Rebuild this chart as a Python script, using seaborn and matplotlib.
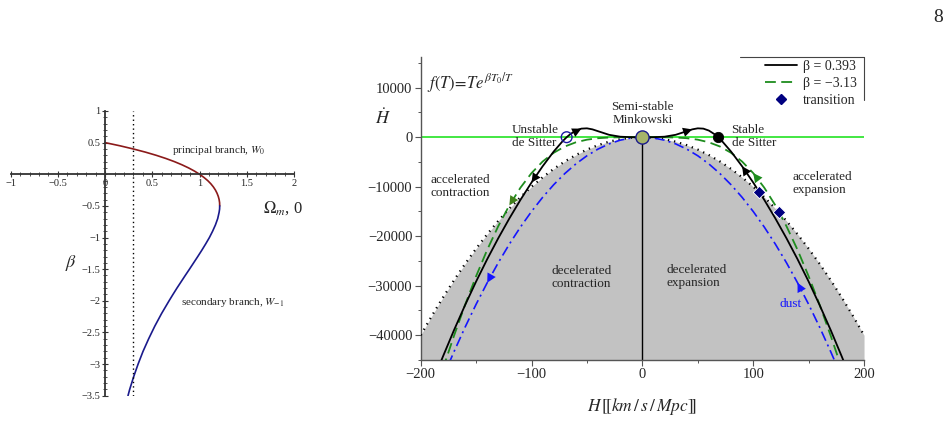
import matplotlib
matplotlib.use('Agg')
import matplotlib.pyplot as plt
import seaborn as sns
from matplotlib.lines import Line2D
from matplotlib.ticker import MultipleLocator, FixedLocator, FixedFormatter

# ---------------- left panel data (beta vs Omega_m0) ----------------
beta_principal = [0.5, 0.45, 0.4, 0.35, 0.3, 0.25, 0.2, 0.15, 0.1, 0.05, 0.0,
                  -0.05, -0.1, -0.15, -0.2, -0.25, -0.3, -0.35, -0.4, -0.45, -0.5]
omega_principal = [0.0, 0.157, 0.298, 0.426, 0.540, 0.642, 0.733, 0.813, 0.884, 0.946, 1.0,
                   1.046, 1.086, 1.119, 1.146, 1.168, 1.185, 1.198, 1.207, 1.212, 1.213]
beta_secondary = [-0.5, -0.55, -0.6, -0.7, -0.8, -0.9, -1.0, -1.1, -1.2, -1.3, -1.4, -1.5,
                  -1.6, -1.7, -1.8, -1.9, -2.0, -2.2, -2.4, -2.6, -2.8, -3.0, -3.2, -3.4, -3.5]
omega_secondary = [1.213, 1.212, 1.207, 1.192, 1.168, 1.138, 1.104, 1.065, 1.024, 0.981, 0.937, 0.893,
                   0.848, 0.804, 0.760, 0.718, 0.677, 0.598, 0.526, 0.461, 0.401, 0.349, 0.302, 0.260, 0.242]
omega_observed = 0.3
left_xticks = [-1, -0.5, 0, 0.5, 1, 1.5, 2]
left_xticklabels = ['\u22121', '\u22120.5', '0', '0.5', '1', '1.5', '2']
left_yticks = [1, 0.5, -0.5, -1, -1.5, -2, -2.5, -3, -3.5]
left_yticklabels = ['1', '0.5', '\u22120.5', '\u22121', '\u22121.5', '\u22122', '\u22122.5', '\u22123', '\u22123.5']

# ---------------- right panel data (Hdot vs H) ----------------
H_black = [-185, -180, -170, -160, -150, -140, -130, -120, -110, -100, -90, -80, -72, -68.3, -65, -60,
           -55, -50, -45, -40, -30, -20, -10, 0, 10, 20, 30, 40, 45, 50, 55, 60, 65, 68.3, 72, 80,
           90, 100, 110, 120, 130, 140, 150, 160, 170, 180, 185]
Hdot_black = [-47120, -44340, -39000, -33940, -29150, -24640, -20400, -16410, -12660, -9150, -5880, -2900,
              -820, 0, 620, 1340, 1730, 1790, 1580, 1210, 480, 100, 6, 0, 6, 100, 480, 1210, 1580, 1790,
              1730, 1340, 620, 0, -820, -2900, -5880, -9150, -12660, -16410, -20400, -24640, -29150,
              -33940, -39000, -44340, -47120]

H_green = [-180, -170, -160, -150, -140, -130, -120, -110, -100, -90, -80, -70, -60, -50, -40, -30, -20,
           -10, 0, 10, 20, 30, 40, 50, 60, 70, 80, 90, 100, 110, 120, 130, 140, 150, 160, 170, 180]
Hdot_green = [-46780, -40140, -33890, -28070, -22750, -17970, -13770, -10200, -7250, -4920, -3150, -1880,
              -1030, -500, -206, -65, -13, -1, 0, -1, -13, -65, -206, -500, -1030, -1880, -3150, -4920,
              -7250, -10200, -13770, -17970, -22750, -28070, -33890, -40140, -46780]

H_dust = [-175, -170, -160, -150, -140, -130, -120, -110, -100, -90, -80, -70, -60, -50, -40, -30, -20,
          -10, 0, 10, 20, 30, 40, 50, 60, 70, 80, 90, 100, 110, 120, 130, 140, 150, 160, 170, 175]
Hdot_dust = [-45940, -43350, -38400, -33750, -29400, -25350, -21600, -18150, -15000, -12150, -9600, -7350,
             -5400, -3750, -2400, -1350, -600, -150, 0, -150, -600, -1350, -2400, -3750, -5400, -7350,
             -9600, -12150, -15000, -18150, -21600, -25350, -29400, -33750, -38400, -43350, -45940]

H_bound = [-200, -190, -180, -170, -160, -150, -140, -130, -120, -110, -100, -90, -80, -70, -60, -50, -40,
           -30, -20, -10, 0, 10, 20, 30, 40, 50, 60, 70, 80, 90, 100, 110, 120, 130, 140, 150, 160, 170,
           180, 190, 200]
Hdot_bound = [-40000, -36100, -32400, -28900, -25600, -22500, -19600, -16900, -14400, -12100, -10000,
              -8100, -6400, -4900, -3600, -2500, -1600, -900, -400, -100, 0, -100, -400, -900, -1600,
              -2500, -3600, -4900, -6400, -8100, -10000, -12100, -14400, -16900, -19600, -22500, -25600,
              -28900, -32400, -36100, -40000]

H_transition = [105.5, 123.0]
Hdot_transition = [-11130, -15130]
H_unstable_dS = [-68.3]
H_stable_dS = [68.3]
H_minkowski = [0.0]
Hdot_fixed = [0.0]

H_RANGE = (-200, 200)
HDOT_RANGE = (-45000, 16200)

# ---------------- style ----------------
sns.set_style('ticks')
plt.rcParams['font.family'] = ['Liberation Serif', 'DejaVu Serif', 'DejaVu Sans']
plt.rcParams['mathtext.fontset'] = 'stix'

fig = plt.figure(figsize=(9.52, 4.34), dpi=100)
axL = fig.add_axes([0.01124, 0.08825, 0.2976, 0.6560])
axR = fig.add_axes([0.4419, 0.1705, 0.4657, 0.6982])

# ---------------- left panel ----------------
axL.patch.set_alpha(0)
sns.lineplot(x=omega_principal, y=beta_principal, ax=axL, color='#8b1a1a', lw=1.2,
             sort=False, estimator=None)
sns.lineplot(x=omega_secondary, y=beta_secondary, ax=axL, color='#1a1a8c', lw=1.2,
             sort=False, estimator=None)
axL.vlines(omega_observed, -3.5, 1, color='black', lw=1.0, linestyles=(0, (1, 2.2)))
axL.set_xlim(-1, 2)
axL.set_ylim(-3.5, 1)
for s in ['top', 'right']:
    axL.spines[s].set_visible(False)
for s in ['left', 'bottom']:
    axL.spines[s].set_position(('data', 0))
    axL.spines[s].set_color('#333333')
    axL.spines[s].set_linewidth(1.3)
axL.xaxis.set_major_locator(FixedLocator(left_xticks))
axL.xaxis.set_major_formatter(FixedFormatter(left_xticklabels))
axL.yaxis.set_major_locator(FixedLocator(left_yticks))
axL.yaxis.set_major_formatter(FixedFormatter(left_yticklabels))
axL.xaxis.set_minor_locator(MultipleLocator(0.1))
axL.yaxis.set_minor_locator(MultipleLocator(0.1))
axL.tick_params(which='major', direction='inout', length=4, width=0.8, labelsize=7.5, pad=1.5,
                color='#333333')
axL.tick_params(which='minor', direction='inout', length=2.2, width=0.6, color='#333333')
axL.text(1.88, -0.53, r'$\Omega_{m}$, 0', fontsize=12, ha='center', va='center')
axL.text(-0.36, -1.40, r'$\beta$', fontsize=13, ha='center', va='center')
axL.text(1.20, 0.37, r'principal branch, $W_0$', fontsize=8, ha='center', va='center')
axL.text(1.35, -2.02, r'secondary branch, $W_{-1}$', fontsize=8, ha='center', va='center')

# ---------------- right panel ----------------
axR.fill_between(H_bound, Hdot_bound, HDOT_RANGE[0], color='#c2c2c2', lw=0, zorder=1)
axR.vlines(H_minkowski, HDOT_RANGE[0], Hdot_fixed, color='black', lw=1.0, zorder=2)
axR.axhline(0, color='#10e010', lw=1.1, zorder=2)
sns.lineplot(x=H_bound, y=Hdot_bound, ax=axR, color='black', lw=1.6, sort=False, estimator=None,
             linestyle=(0, (0.6, 2.2)), zorder=3)
sns.lineplot(x=H_dust, y=Hdot_dust, ax=axR, color='#1515ff', lw=1.2, sort=False, estimator=None,
             linestyle=(0, (6, 2.5, 1.2, 2.5)), zorder=4)
sns.lineplot(x=H_green, y=Hdot_green, ax=axR, color='#1e8c1e', lw=1.3, sort=False, estimator=None,
             linestyle=(0, (6, 3)), zorder=5)
sns.lineplot(x=H_black, y=Hdot_black, ax=axR, color='black', lw=1.3, sort=False, estimator=None,
             zorder=6)


def flow_arrow(ax, xs, ys, tail, tip, color):
    i, j = xs.index(tail), xs.index(tip)
    ax.annotate('', xy=(xs[j], ys[j]), xytext=(xs[i], ys[i]), zorder=8,
                arrowprops=dict(arrowstyle='-|>,head_length=0.55,head_width=0.28', color=color,
                                lw=0, shrinkA=0, shrinkB=0, mutation_scale=12))


flow_arrow(axR, H_black, Hdot_black, -65, -55, 'black')
flow_arrow(axR, H_black, Hdot_black, -90, -100, 'black')
flow_arrow(axR, H_black, Hdot_black, 40, 45, 'black')
flow_arrow(axR, H_black, Hdot_black, 100, 90, 'black')
flow_arrow(axR, H_green, Hdot_green, -110, -120, '#3f7f1a')
flow_arrow(axR, H_green, Hdot_green, 110, 100, '#1e8c1e')
flow_arrow(axR, H_dust, Hdot_dust, -130, -140, '#1515ff')
flow_arrow(axR, H_dust, Hdot_dust, 150, 140, '#1515ff')

sns.scatterplot(x=H_transition, y=Hdot_transition, ax=axR, marker='D', color='#000080', s=40,
                edgecolor='white', linewidth=0.6, zorder=9)
sns.scatterplot(x=H_unstable_dS, y=Hdot_fixed, ax=axR, marker='o', facecolor='none',
                edgecolor='#1a1aa0', linewidth=1.0, s=60, zorder=9)
sns.scatterplot(x=H_stable_dS, y=Hdot_fixed, ax=axR, marker='o', color='black', s=55,
                edgecolor='black', zorder=9)
sns.scatterplot(x=H_minkowski, y=Hdot_fixed, ax=axR, marker='o', color='#a6b46a', s=90,
                edgecolor='#1a1a8c', linewidth=1.0, zorder=9)

axR.set_xlim(*H_RANGE)
axR.set_ylim(*HDOT_RANGE)
axR.xaxis.set_major_locator(MultipleLocator(100))
axR.xaxis.set_minor_locator(MultipleLocator(50))
axR.yaxis.set_major_locator(MultipleLocator(10000))
axR.yaxis.set_minor_locator(MultipleLocator(5000))
for s in ['top', 'right']:
    axR.spines[s].set_visible(False)
for s in ['left', 'bottom']:
    axR.spines[s].set_color('#555555')
    axR.spines[s].set_linewidth(1.0)
axR.tick_params(which='major', direction='out', length=4, width=0.8, labelsize=10.5, pad=2,
                color='#555555')
axR.tick_params(which='minor', direction='out', length=2.5, width=0.7, color='#555555')
axR.set_xlabel('')
axR.set_ylabel('')

axR.text(0.5, -0.155, r'$H\,[\![km\,/\,s\,/\,Mpc]\!]$', transform=axR.transAxes,
         fontsize=12.5, ha='center', va='center')
axR.text(-0.086, 0.80, r'$\dot{H}$', transform=axR.transAxes, fontsize=13, ha='center', va='center')
axR.text(-194, 9900, r'$f(T)\!=\!Te^{\beta T_0/T}$', fontsize=12, ha='left', va='baseline')

txt = dict(fontsize=9.5, va='center', linespacing=1.1)
axR.text(0, 4700, 'Semi-stable\nMinkowski', ha='center', multialignment='center', **txt)
axR.text(-117.7, 200, 'Unstable\nde Sitter', ha='left', **txt)
axR.text(80.5, 200, 'Stable\nde Sitter', ha='left', **txt)
axR.text(-191.3, -9970, 'accelerated\ncontraction', ha='left', **txt)
axR.text(135.1, -9430, 'accelerated\nexpansion', ha='left', **txt)
axR.text(-81.6, -28400, 'decelerated\ncontraction', ha='left', **txt)
axR.text(22.0, -28140, 'decelerated\nexpansion', ha='left', **txt)
axR.text(133.8, -33650, 'dust', ha='center', color='#1515ff', fontsize=9.5, va='center')

handles = [Line2D([], [], color='black', lw=1.3),
           Line2D([], [], color='#1e8c1e', lw=1.3, linestyle=(0, (6, 3))),
           Line2D([], [], color='#000080', marker='D', linestyle='none', markersize=5.5)]
labels = ['\u03b2 = 0.393', '\u03b2 = \u22123.13', 'transition']
axR.legend(handles, labels, loc='upper right', bbox_to_anchor=(0.99, 1.0), frameon=False,
           fontsize=10, borderaxespad=0, borderpad=0.2, labelspacing=0.3, handlelength=2.3,
           handletextpad=0.4)
axR.plot([0.72, 1.0], [1.0, 1.0], transform=axR.transAxes, color='#444444', lw=0.8, clip_on=False)
axR.plot([1.0, 1.0], [1.0, 0.858], transform=axR.transAxes, color='#444444', lw=0.8, clip_on=False)

fig.text(938 / 952, 1 - 18 / 434, '8', fontsize=14, ha='center', va='center')

fig.savefig('out.png', dpi=100)
